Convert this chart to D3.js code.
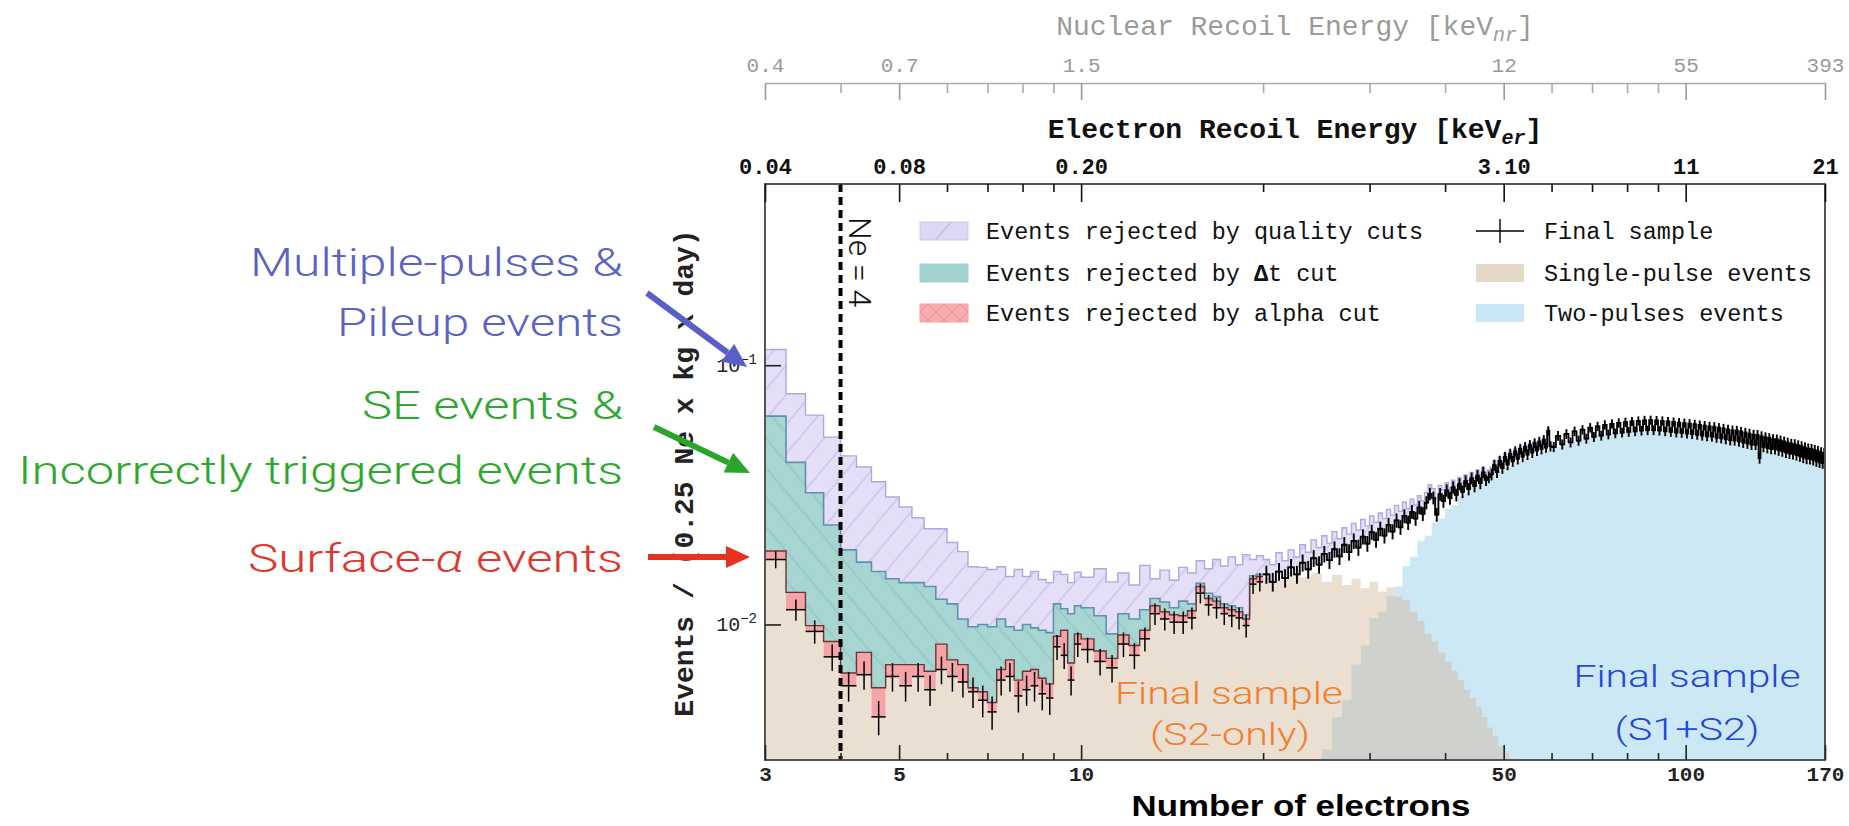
<!DOCTYPE html>
<html>
<head>
<meta charset="utf-8">
<script src="https://cdnjs.cloudflare.com/ajax/libs/d3/7.8.5/d3.min.js"></script>
<style>
  body { margin: 0; background: #fff; }
  svg { display: block; }
</style>
</head>
<body>
<div id="chart"></div>
<script>
// all histogram values are Events / (0.25 Ne x kg x day), typed in units of 1e-3
var unit = 1e-3;

// axis ticks (number of electrons) and the matching energy labels
var neMajor = [3, 5, 10, 50, 100, 170];
var neMinor = [4, 6, 7, 8, 9, 20, 30, 40, 60, 70, 80, 90];
var erLabels = ["0.04", "0.08", "0.20", "3.10", "11", "21"];
var nrLabels = ["0.4", "0.7", "1.5", "12", "55", "393"];
var yMajor = [0.01, 0.1];

// binning: Ne 3-10 in 0.25 bins, 10-20 and 20-60 in 0.5 bins, 60-170 in 1 bins
var lowStart = 3, lowWidth = 0.25;
var midStart = 10, midWidth = 0.5;
var bandStart = 20, bandWidth = 0.5;
var tailStart = 60, tailWidth = 1;

// final sample and the tops of the stacked rejected-event histograms
var finalLow   = [17.8, 11.4, 9.4, 7.5, 5.8, 6.4, 4.4, 6.3, 5.8, 6.3, 5.6, 6.7, 6.3, 6.0,
                  5.5, 5.1, 4.6, 6.1, 6.3, 5.3, 5.6, 5.8, 5.4, 5.2, 8.2, 7.6, 6.1, 8.4];
var alphaLow   = [19.2, 13.3, 9.9, 8.6, 6.5, 7.8, 5.7, 7.0, 7.0, 7.0, 6.6, 8.4, 7.3, 7.0,
                  5.7, 5.5, 5.0, 6.7, 7.3, 6.1, 6.6, 6.7, 6.2, 5.9, 9.0, 9.5, 7.1, 9.2];
var dtLow      = [63.6, 42.2, 32.2, 24.2, 19.4, 17.4, 16.0, 15.0, 14.5, 14.5, 14.0, 12.5, 12.0, 10.5,
                  9.8, 10.0, 9.8, 10.5, 9.8, 9.5, 10.0, 9.7, 9.5, 9.3, 12.0, 11.5, 11.0, 11.8];
var qualityLow = [115, 77.6, 64.2, 52.8, 44.7, 40.5, 35.5, 31.0, 28.4, 25.8, 23.4, 23.4, 20.7, 19.1,
                  16.7, 16.6, 16.3, 16.7, 15.3, 16.3, 15.3, 16.0, 14.9, 14.5, 16.0, 15.6, 14.5, 15.9];

var finalMid   = [8.0, 7.2, 6.8, 8.4, 7.6, 8.8, 11.0, 10.5, 10.2, 10.2,
                  10.6, 13.2, 11.9, 11.6, 11.0, 10.8, 10.6, 9.9, 14.3, 14.6];
var alphaMid   = [8.8, 7.9, 7.4, 9.1, 8.3, 9.5, 11.8, 11.2, 10.9, 10.8,
                  11.3, 14.0, 12.6, 12.3, 11.6, 11.4, 11.2, 10.5, 15.0, 15.3];
var dtMid      = [11.6, 10.8, 9.2, 11.0, 10.5, 11.4, 12.6, 12.2, 11.6, 12.3,
                  12.0, 14.4, 13.2, 12.8, 12.0, 11.8, 11.6, 10.9, 15.4, 15.6];
var qualityMid = [15.2, 16.4, 14.6, 15.8, 14.2, 16.9, 15.0, 16.2, 14.8, 16.6,
                  15.8, 17.6, 16.4, 17.8, 16.8, 18.2, 17.0, 18.6, 17.8, 18.4];

// Ne 20-60 (0.5 bins)
var finalBand = [
  15.6, 14.6, 16.0, 15.1, 16.6, 15.6, 17.3, 16.3, 18.0, 17.0,
  18.7, 17.7, 19.5, 18.3, 20.3, 19.0, 21.0, 19.8, 21.8, 20.5,
  22.7, 21.2, 23.4, 22.0, 24.2, 22.8, 25.2, 23.7, 26.2, 24.7,
  27.2, 25.6, 28.3, 26.7, 29.5, 31.9, 30.8, 26.5, 31.8, 29.9,
  32.9, 30.7, 33.8, 31.6, 34.8, 32.5, 35.7, 33.3, 36.6, 34.2,
  37.5, 35.1, 38.6, 36.1, 37.0, 37.9, 41.2, 38.7, 42.7, 40.1,
  44.3, 41.4, 45.5, 42.6, 46.5, 43.5, 47.5, 44.4, 48.4, 45.2,
  49.2, 46.0, 50.0, 46.8, 50.7, 47.5, 51.5, 48.1, 55.8, 48.7
];
var qualityBand = [
  17.8, 17.0, 18.9, 17.6, 19.4, 18.2, 20.3, 19.0, 21.2, 19.8,
  22.0, 20.6, 22.8, 21.4, 23.6, 22.3, 24.5, 23.1, 25.4, 24.0,
  26.2, 24.8, 26.9, 25.6, 27.8, 26.4, 28.8, 27.3, 29.6, 28.0,
  30.4, 28.9, 31.4, 30.0, 32.3, 34.6, 33.4, 30.6, 34.4, 33.0,
  35.2, 33.6, 36.0, 34.4, 36.9, 35.2, 37.8, 36.0, 38.6, 36.9,
  39.4, 37.8, 40.4, 38.6, 39.4, 40.4, 42.8, 41.2, 44.2, 42.5,
  45.6, 43.6, 46.7, 44.6, 47.6, 45.5, 48.4, 46.4, 49.3, 47.1,
  50.0, 48.0, 50.8, 48.6, 51.4, 49.3, 52.2, 49.8, 57.0, 50.6
];
// Ne 60-170 (1 bins)
var finalTail = [
  48.4, 53.4, 49.5, 54.3, 50.4, 55.6, 51.2, 56.4, 52.1, 57.4,
  52.9, 58.1, 53.5, 58.9, 54.1, 59.4, 54.6, 59.9, 55.0, 60.3,
  55.3, 60.7, 55.6, 61.0, 55.9, 61.3, 56.1, 61.4, 56.1, 61.2,
  55.9, 61.0, 55.6, 60.7, 55.3, 60.4, 55.0, 60.1, 54.8, 59.8,
  54.5, 59.5, 54.2, 59.2, 53.9, 58.8, 53.5, 58.5, 53.2, 58.1,
  53.0, 57.9, 52.5, 57.4, 52.2, 57.0, 51.8, 56.6, 51.3, 56.1,
  51.2, 56.0, 50.7, 55.5, 50.2, 55.0, 49.8, 54.5, 49.3, 54.0,
  49.3, 53.9, 43.8, 53.3, 48.4, 52.8, 47.9, 52.4, 47.5, 51.9,
  47.4, 51.8, 46.9, 51.3, 46.5, 50.8, 46.0, 50.3, 45.6, 49.8,
  45.4, 49.6, 45.0, 49.1, 44.5, 48.7, 44.0, 48.2, 43.6, 47.7,
  43.5, 47.5, 43.1, 47.1, 42.6, 46.6, 42.2, 46.1, 41.9, 45.9
];
// single-pulse events from Ne 20 (below 20 they are the final sample), 1 bins
var singleStart = 20, singleWidth = 1;
var singleHigh = [
  15.2, 14.9, 16.0, 15.2, 15.8, 14.6, 15.5, 14.2, 15.0, 13.8,
  14.6, 13.4, 13.9, 12.8, 12.4, 11.2, 10.3, 9.2, 8.6, 7.8,
  7.2, 6.6, 6.1, 5.6, 5.2, 4.8, 4.4, 4.0, 3.7, 3.4,
  3.2, 3.05
];
// two-pulses events from Ne 25, 1 bins
var twoStart = 25, twoWidth = 1;
var twoPulse = [
  3.3, 4.4, 5.1, 7.0, 8.3, 10.6, 11.2, 12.9, 14.0, 16.8,
  18.2, 21.0, 22.0, 24.6, 25.6, 28.0, 28.8, 31.2, 32.0, 34.2,
  34.7, 36.4, 37.0, 38.5, 39.0, 40.4, 40.8, 42.0, 42.4, 43.6,
  44.0, 45.2, 45.6, 46.7, 47.0, 47.9, 48.2, 49.1, 49.4, 50.3,
  50.6, 51.5, 51.7, 52.5, 52.6, 53.3, 53.4, 53.9, 54.0, 54.4,
  54.5, 54.8, 54.8, 55.1, 55.1, 55.3, 55.3, 55.4, 55.4, 55.5,
  55.4, 55.5, 55.3, 55.4, 55.2, 55.2, 55.0, 55.0, 54.8, 54.8,
  54.6, 54.6, 54.4, 54.3, 54.1, 54.0, 53.8, 53.7, 53.5, 53.4,
  53.2, 53.0, 52.8, 52.7, 52.4, 52.3, 52.0, 51.9, 51.6, 51.5,
  51.2, 51.1, 50.8, 50.7, 50.4, 50.2, 49.9, 49.8, 49.5, 49.4,
  49.0, 48.9, 48.6, 48.5, 48.1, 48.0, 47.7, 47.6, 47.3, 47.2,
  46.9, 46.8, 46.4, 46.3, 46.0, 45.9, 45.6, 45.5, 45.2, 45.1,
  44.8, 44.7, 44.4, 44.3, 44.0, 43.9, 43.6, 43.6, 43.3, 43.3,
  43.0, 43.0, 42.8, 42.8, 42.6, 42.6, 42.4, 42.4, 42.2, 42.2,
  42.0, 42.0, 41.9, 41.9, 41.8
];
// Poisson errors on the final sample: counts = value * exposure
var exposure = 10000;

var mono = "'Liberation Mono', 'Courier New', monospace";
var sans = "'Liberation Sans', Arial, Helvetica, sans-serif";
var light = "Roboto, 'Noto Sans', sans-serif";

var svg = d3.select("#chart").append("svg").attr("width", 1849).attr("height", 826);
var x = d3.scaleLog().domain([3, 170]).range([765, 1825]);
var y = d3.scaleLog().domain([0.003, 0.5]).range([760, 184]).clamp(true);
var yBot = y.range()[0];

function makeBins(start, width, fin, alpha, dt, qual) {
    return fin.map(function(v, i) {
        var b = { lo: start + i * width, hi: start + (i + 1) * width, fin: v * unit };
        b.alpha = alpha && alpha[i] != null ? alpha[i] * unit : b.fin;
        b.dt = dt && dt[i] != null ? dt[i] * unit : b.alpha;
        b.qual = qual && qual[i] != null ? qual[i] * unit : b.dt;
        return b;
    });
}
function simpleBins(start, width, vals) {
    return vals.map(function(v, i) {
        return { lo: start + i * width, hi: start + (i + 1) * width, v: v * unit };
    });
}
function stepPoints(bs) {
    var p = [];
    bs.forEach(function(b) { p.push({ ne: b.lo, b: b }); p.push({ ne: b.hi, b: b }); });
    return p;
}

var lowBins = makeBins(lowStart, lowWidth, finalLow, alphaLow, dtLow, qualityLow)
    .concat(makeBins(midStart, midWidth, finalMid, alphaMid, dtMid, qualityMid));
var highBins = makeBins(bandStart, bandWidth, finalBand, null, null, qualityBand)
    .concat(makeBins(tailStart, tailWidth, finalTail));
var bins = lowBins.concat(highBins);
var singleBins = simpleBins(lowStart, lowWidth, finalLow)
    .concat(simpleBins(midStart, midWidth, finalMid))
    .concat(simpleBins(singleStart, singleWidth, singleHigh));
var twoBins = simpleBins(twoStart, twoWidth, twoPulse);

var defs = svg.append("defs");
defs.append("clipPath").attr("id", "plotClip").append("rect")
    .attr("x", 765).attr("y", 184).attr("width", 1060).attr("height", 576);
function hatch(id, bg, line, angle, gap) {
    var p = defs.append("pattern").attr("id", id).attr("patternUnits", "userSpaceOnUse")
        .attr("width", gap).attr("height", gap).attr("patternTransform", "rotate(" + angle + ")");
    p.append("rect").attr("width", gap).attr("height", gap).attr("fill", bg);
    p.append("line").attr("x1", 1).attr("y1", 0).attr("x2", 1).attr("y2", gap)
        .attr("stroke", line).attr("stroke-width", 1.3);
}
hatch("hatchQual", "#e4dff6", "#cac1ec", 40, 19);
hatch("hatchDt", "#a7d6d2", "#8fc5c3", -40, 19);
hatch("hatchQualKey", "#dcd7f3", "#bfb5e6", 40, 30);
var xp = defs.append("pattern").attr("id", "hatchAlphaKey").attr("patternUnits", "userSpaceOnUse")
    .attr("width", 16).attr("height", 16);
xp.append("rect").attr("width", 16).attr("height", 16).attr("fill", "#f8aeae");
xp.append("path").attr("d", "M0,0L16,16M16,0L0,16").attr("stroke", "#ef8e90").attr("stroke-width", 1);

var plot = svg.append("g").attr("clip-path", "url(#plotClip)");

// two-pulses events (light blue) and single-pulse events (beige, see-through)
var fillArea = d3.area().x(function(d) { return x(d.ne); }).y0(yBot)
    .y1(function(d) { return y(d.b.v); });
plot.append("path").datum(stepPoints(twoBins)).attr("d", fillArea).attr("fill", "#cde8f5");
plot.append("path").datum(stepPoints(singleBins)).attr("d", fillArea)
    .attr("fill", "rgb(210,185,155)").attr("fill-opacity", 0.45);

// stacked rejected events
function band(lowKey, highKey) {
    return d3.area().x(function(d) { return x(d.ne); })
        .y0(function(d) { return y(d.b[lowKey]); })
        .y1(function(d) { return y(d.b[highKey]); });
}
function stepLine(key) {
    return d3.line().x(function(d) { return x(d.ne); }).y(function(d) { return y(d.b[key]); });
}
var allPts = stepPoints(bins), lowPts = stepPoints(lowBins);
plot.append("path").datum(allPts).attr("d", band("dt", "qual")).attr("fill", "url(#hatchQual)");
plot.append("path").datum(lowPts).attr("d", band("alpha", "dt")).attr("fill", "url(#hatchDt)");
plot.append("path").datum(lowPts).attr("d", band("fin", "alpha")).attr("fill", "#f5a3a6");
plot.append("path").datum(allPts.filter(function(d) { return d.ne <= 60; }))
    .attr("d", stepLine("qual")).attr("fill", "none").attr("stroke", "#b2a6e2").attr("stroke-width", 1.4);
plot.append("path").datum(lowPts).attr("d", stepLine("dt"))
    .attr("fill", "none").attr("stroke", "#5f90b2").attr("stroke-width", 1.6);
plot.append("path").datum(lowPts).attr("d", stepLine("alpha"))
    .attr("fill", "none").attr("stroke", "#6b3434").attr("stroke-width", 1.4);

// final sample: bin-width bars and error bars (joined into a band where bins are dense)
function err(v) { return Math.sqrt(v * exposure) / exposure; }
plot.append("path").datum(stepPoints(highBins)).attr("d", stepLine("fin"))
    .attr("fill", "none").attr("stroke", "#000").attr("stroke-width", 1.8);
var fs = plot.append("g").attr("stroke", "#000");
fs.selectAll("line.h").data(bins).enter().append("line").attr("class", "h")
    .attr("stroke-width", 1.5)
    .attr("x1", function(d) { return x(d.lo); }).attr("x2", function(d) { return x(d.hi); })
    .attr("y1", function(d) { return y(d.fin); }).attr("y2", function(d) { return y(d.fin); });
fs.selectAll("line.v").data(bins).enter().append("line").attr("class", "v")
    .attr("stroke-width", function(d) { return d.lo >= bandStart ? 1.9 : 1.5; })
    .attr("x1", function(d) { return x((d.lo + d.hi) / 2); })
    .attr("x2", function(d) { return x((d.lo + d.hi) / 2); })
    .attr("y1", function(d) { return y(d.fin - err(d.fin)); })
    .attr("y2", function(d) { return y(d.fin + err(d.fin)); });

// Ne = 4 threshold
svg.append("line").attr("x1", x(4)).attr("x2", x(4)).attr("y1", 184).attr("y2", 760)
    .attr("stroke", "#000").attr("stroke-width", 4).attr("stroke-dasharray", "8,5");
svg.append("text").attr("transform", "translate(" + (x(4) + 8) + ",217) rotate(90)")
    .attr("font-family", light).attr("font-weight", 300).attr("font-size", 32).attr("fill", "#111")
    .text("Ne = 4");

// frame
svg.append("rect").attr("x", 765).attr("y", 184).attr("width", 1060).attr("height", 576)
    .attr("fill", "none").attr("stroke", "#555").attr("stroke-width", 2);

function styleAxis(g, color, size, weight) {
    g.selectAll(".tick line").attr("stroke", color).attr("stroke-width", 1.6);
    g.selectAll(".tick text").attr("fill", color).attr("font-family", mono)
        .attr("font-size", size).attr("font-weight", weight);
}
function labelFor(list) { return function(d) { return list[neMajor.indexOf(d)]; }; }

// bottom axis: number of electrons
var gb = svg.append("g").attr("transform", "translate(0,760)")
    .call(d3.axisBottom(x).tickValues(neMajor).tickFormat(d3.format("d")).tickSize(-15).tickPadding(6));
gb.select(".domain").remove();
styleAxis(gb, "#222", 21, "bold");
var gbm = svg.append("g").attr("transform", "translate(0,760)")
    .call(d3.axisBottom(x).tickValues(neMinor).tickFormat("").tickSize(-7));
gbm.select(".domain").remove();
styleAxis(gbm, "#222", 21, "bold");

// top axis on the frame: electron recoil energy
var ge = svg.append("g").attr("transform", "translate(0,184)")
    .call(d3.axisTop(x).tickValues(neMajor).tickFormat(labelFor(erLabels)).tickSize(-18).tickPadding(10));
ge.select(".domain").remove();
styleAxis(ge, "#111", 22, "bold");
var gem = svg.append("g").attr("transform", "translate(0,184)")
    .call(d3.axisTop(x).tickValues(neMinor).tickFormat("").tickSize(-8));
gem.select(".domain").remove();
styleAxis(gem, "#111", 22, "bold");

// upper axis: nuclear recoil energy
var gn = svg.append("g").attr("transform", "translate(0,83)")
    .call(d3.axisTop(x).tickValues(neMajor).tickFormat(labelFor(nrLabels)).tickSize(-17).tickSizeOuter(0).tickPadding(11));
gn.select(".domain").attr("stroke", "#aaa").attr("stroke-width", 1.6);
styleAxis(gn, "#9a9a9a", 21, "normal");
var gnm = svg.append("g").attr("transform", "translate(0,83)")
    .call(d3.axisTop(x).tickValues(neMinor).tickFormat("").tickSize(-10));
gnm.select(".domain").remove();
styleAxis(gnm, "#aaa", 21, "normal");

// y axis
var gy = svg.append("g").attr("transform", "translate(765,0)")
    .call(d3.axisLeft(y).tickValues(yMajor).tickFormat("").tickSize(-16));
gy.select(".domain").remove();
styleAxis(gy, "#222", 20, "normal");
yMajor.forEach(function(v) {
    var t = svg.append("text").attr("x", 757).attr("y", y(v)).attr("dy", "0.35em")
        .attr("text-anchor", "end").attr("font-family", mono).attr("font-size", 20).attr("fill", "#222");
    t.append("tspan").text("10");
    t.append("tspan").attr("font-size", 14).attr("dy", -8).text("\u2212" + Math.round(-Math.log10(v)));
});

// axis titles
var tn = svg.append("text").attr("x", 1295).attr("y", 25).attr("dy", "0.35em").attr("text-anchor", "middle")
    .attr("font-family", mono).attr("font-size", 28).attr("fill", "#9a9a9a");
tn.append("tspan").text("Nuclear Recoil Energy [keV");
tn.append("tspan").attr("font-size", 20).attr("font-style", "italic").attr("dy", 6).text("nr");
tn.append("tspan").attr("dy", -6).text("]");
var te = svg.append("text").attr("x", 1295).attr("y", 128).attr("dy", "0.35em").attr("text-anchor", "middle")
    .attr("font-family", mono).attr("font-weight", "bold").attr("font-size", 28).attr("fill", "#111");
te.append("tspan").text("Electron Recoil Energy [keV");
te.append("tspan").attr("font-size", 20).attr("font-style", "italic").attr("dy", 6).text("er");
te.append("tspan").attr("dy", -6).text("]");
svg.append("text").attr("transform", "translate(693,473) rotate(-90)").attr("text-anchor", "middle")
    .attr("font-family", mono).attr("font-weight", "bold").attr("font-size", 28).attr("fill", "#222")
    .text("Events / (0.25 Ne x kg x day)");
svg.append("text").attr("x", 1301).attr("y", 805).attr("dy", "0.35em").attr("text-anchor", "middle")
    .attr("font-family", sans).attr("font-weight", "bold").attr("font-size", 30).attr("fill", "#000")
    .attr("textLength", 339).attr("lengthAdjust", "spacingAndGlyphs")
    .text("Number of electrons");

// legend
var legend = svg.append("g").attr("font-family", mono).attr("font-size", 23.5).attr("fill", "#111");
var leftKeys = [
    { fill: "url(#hatchQualKey)", stroke: "#cfc8ee", text: ["Events rejected by quality cuts"] },
    { fill: "#a2d2ce", stroke: "#a2d2ce", text: ["Events rejected by ", "\u0394", "t cut"] },
    { fill: "url(#hatchAlphaKey)", stroke: "#f5a0a0", text: ["Events rejected by alpha cut"] }
];
var rowY = [231, 273, 313];
leftKeys.forEach(function(k, i) {
    legend.append("rect").attr("x", 920).attr("y", rowY[i] - 9).attr("width", 48).attr("height", 18)
        .attr("fill", k.fill).attr("stroke", k.stroke).attr("stroke-width", 1);
    var t = legend.append("text").attr("x", 986).attr("y", rowY[i]).attr("dy", "0.35em");
    k.text.forEach(function(s, j) {
        t.append("tspan").attr("font-weight", j == 1 ? "bold" : null).text(s);
    });
});
legend.append("line").attr("x1", 1476).attr("x2", 1524).attr("y1", rowY[0]).attr("y2", rowY[0])
    .attr("stroke", "#000").attr("stroke-width", 1.4);
legend.append("line").attr("x1", 1500).attr("x2", 1500).attr("y1", rowY[0] - 12).attr("y2", rowY[0] + 12)
    .attr("stroke", "#000").attr("stroke-width", 1.4);
legend.append("rect").attr("x", 1476).attr("y", rowY[1] - 9).attr("width", 48).attr("height", 18).attr("fill", "#e6d8c7");
legend.append("rect").attr("x", 1476).attr("y", rowY[2] - 9).attr("width", 48).attr("height", 18).attr("fill", "#c9e6f4");
["Final sample", "Single-pulse events", "Two-pulses events"].forEach(function(s, i) {
    legend.append("text").attr("x", 1544).attr("y", rowY[i]).attr("dy", "0.35em").text(s);
});

// annotations inside the plot
function note(txt, cx, cy, len, color, size) {
    return svg.append("text").attr("x", cx).attr("y", cy).attr("dy", "0.35em").attr("text-anchor", "middle")
        .attr("font-family", light).attr("font-weight", 300).attr("font-size", size).attr("fill", color)
        .attr("textLength", len).attr("lengthAdjust", "spacingAndGlyphs").text(txt);
}
note("Final sample", 1229, 693, 228, "#f27f2d", 32);
note("(S2-only)", 1230, 734, 160, "#f27f2d", 32);
note("Final sample", 1687, 676, 227, "#2347d6", 32);
note("(S1+S2)", 1687, 729, 145, "#2347d6", 32);

// left-hand labels and arrows
function side(txt, cy, len, color) {
    return svg.append("text").attr("x", 623).attr("y", cy).attr("dy", "0.35em").attr("text-anchor", "end")
        .attr("font-family", light).attr("font-weight", 300).attr("font-size", 39).attr("fill", color)
        .attr("textLength", len).attr("lengthAdjust", "spacingAndGlyphs").text(txt);
}
side("Multiple-pulses &", 262, 373, "#5a62c4");
side("Pileup events", 322, 286, "#5a62c4");
side("SE events &", 405, 261, "#2fa72f");
side("Incorrectly triggered events", 470, 605, "#2fa72f");
var sa = svg.append("text").attr("x", 623).attr("y", 558).attr("dy", "0.35em").attr("text-anchor", "end")
    .attr("font-family", light).attr("font-weight", 300).attr("font-size", 39).attr("fill", "#e0352a")
    .attr("textLength", 375).attr("lengthAdjust", "spacingAndGlyphs");
sa.append("tspan").text("Surface-");
sa.append("tspan").attr("font-style", "italic").text("\u03b1");
sa.append("tspan").text(" events");

function arrow(x1, y1, x2, y2, color) {
    var a = Math.atan2(y2 - y1, x2 - x1), len = 24, half = 11;
    var bx = x2 - len * Math.cos(a), by = y2 - len * Math.sin(a);
    svg.append("line").attr("x1", x1).attr("y1", y1).attr("x2", bx).attr("y2", by)
        .attr("stroke", color).attr("stroke-width", 6);
    svg.append("path").attr("fill", color)
        .attr("d", "M" + x2 + "," + y2 +
            "L" + (bx + half * Math.sin(a)) + "," + (by - half * Math.cos(a)) +
            "L" + (bx - half * Math.sin(a)) + "," + (by + half * Math.cos(a)) + "Z");
}
arrow(647, 293, 747, 367, "#5a5fc8");
arrow(654, 427, 750, 473, "#2aa52a");
arrow(648, 557, 750, 557, "#e8321e");
</script>
</body>
</html>
